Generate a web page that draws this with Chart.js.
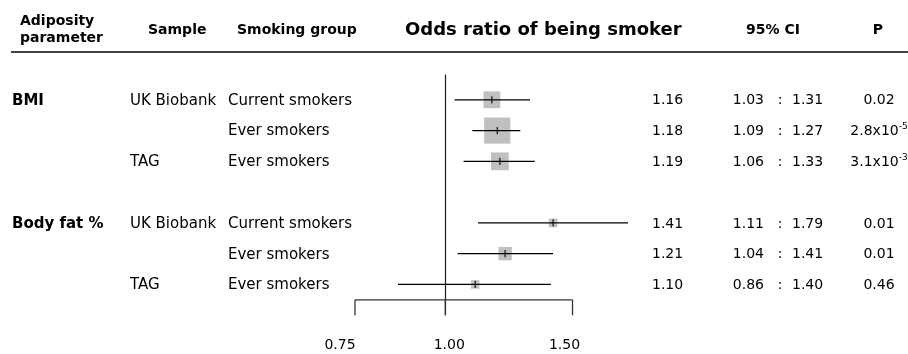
<!DOCTYPE html>
<html>
<head>
<meta charset="utf-8">
<title>Odds ratio of being smoker</title>
<script src="https://cdn.jsdelivr.net/npm/chart.js@4/dist/chart.umd.min.js"></script>
<style>
  html, body { margin: 0; padding: 0; background: #ffffff; }
  #wrap { width: 908px; height: 354px; }
</style>
</head>
<body>
<div id="wrap"><canvas id="forest" width="908" height="354"></canvas></div>
<script>
// ---- data -------------------------------------------------------------
const adiposity  = ['BMI', '', '', 'Body fat %', '', ''];
const samples    = ['UK Biobank', '', 'TAG', 'UK Biobank', '', 'TAG'];
const groups     = ['Current smokers', 'Ever smokers', 'Ever smokers',
                    'Current smokers', 'Ever smokers', 'Ever smokers'];
const oddsRatio  = [1.16, 1.18, 1.19, 1.41, 1.21, 1.10];
const ciLow      = [1.03, 1.09, 1.06, 1.11, 1.04, 0.86];
const ciHigh     = [1.31, 1.27, 1.33, 1.79, 1.41, 1.40];
const pValues    = ['0.02', '2.8x10^-5', '3.1x10^-3', '0.01', '0.01', '0.46'];
const axisTicks  = [0.75, 1.00, 1.50];

// ---- layout helpers ---------------------------------------------------
// each new adiposity block is separated from the previous one by an empty row
const rows = [];
let r = 0;
adiposity.forEach((a, i) => {
  if (i > 0 && a !== '') r += 1;
  rows.push(r);
  r += 1;
});

// box side is proportional to the precision (1 / SE on the log scale)
const boxSide = ciLow.map((lo, i) => {
  const se = Math.log(ciHigh[i] / lo) / (2 * 1.96);
  return 1 / se + 0.5;
});

const FONT = '"DejaVu Sans", Verdana, sans-serif';
const tickLabelShift = [-15, 4, -8];

// ---- datasets ---------------------------------------------------------
const ciSets = oddsRatio.map((_, i) => ({
  type: 'line',
  data: [{ x: ciLow[i], y: rows[i] }, { x: ciHigh[i], y: rows[i] }],
  borderColor: '#000000',
  borderWidth: 1.25,
  pointRadius: 0,
  showLine: true,
  clip: false,
  order: 1
}));

const boxes = {
  type: 'scatter',
  data: oddsRatio.map((v, i) => ({ x: v, y: rows[i] })),
  pointStyle: 'rect',
  pointRadius: boxSide.map(s => s / (2 * Math.SQRT1_2)),
  backgroundColor: '#c0c0c0',
  borderWidth: 0,
  clip: false,
  order: 2
};

const estimates = {
  type: 'scatter',
  data: oddsRatio.map((v, i) => ({ x: v, y: rows[i] })),
  pointStyle: 'line',
  rotation: 90,
  pointRadius: 3.6,
  borderColor: '#000000',
  borderWidth: 1.1,
  clip: false,
  order: 0
};

// ---- drawing of reference line, axis and the table columns -------------
const forestDecor = {
  id: 'forestDecor',
  beforeDatasetsDraw(chart) {
    const { ctx } = chart;
    const xs = chart.scales.x, ys = chart.scales.y;
    const x1 = xs.getPixelForValue(1);
    const axisY = ys.getPixelForValue(rows[rows.length - 1] + 0.5);
    const tickEnd = ys.getPixelForValue(rows[rows.length - 1] + 1);
    ctx.save();
    // null-effect line
    ctx.strokeStyle = '#1a1a1a';
    ctx.lineWidth = 1.2;
    ctx.beginPath();
    ctx.moveTo(Math.round(x1) + 0.5, ys.getPixelForValue(-0.82));
    ctx.lineTo(Math.round(x1) + 0.5, tickEnd);
    ctx.stroke();
    // x axis with downward ticks
    ctx.strokeStyle = '#333333';
    ctx.lineWidth = 1.3;
    const xa = xs.getPixelForValue(axisTicks[0]);
    const xb = xs.getPixelForValue(axisTicks[axisTicks.length - 1]);
    ctx.beginPath();
    ctx.moveTo(xa, axisY);
    ctx.lineTo(xb, axisY);
    axisTicks.forEach(t => {
      const px = xs.getPixelForValue(t);
      ctx.moveTo(px, axisY);
      ctx.lineTo(px, tickEnd);
    });
    ctx.stroke();
    ctx.restore();
  },
  afterDraw(chart) {
    const { ctx } = chart;
    const xs = chart.scales.x, ys = chart.scales.y;
    ctx.save();
    ctx.fillStyle = '#000000';

    // header
    ctx.textBaseline = 'middle';
    ctx.font = 'bold 14px ' + FONT;
    ctx.textAlign = 'left';
    ctx.fillText('Adiposity', 20, 21);
    ctx.fillText('parameter', 20, 38);
    ctx.fillText('Sample', 148, 30);
    ctx.fillText('Smoking group', 237, 30);
    ctx.textAlign = 'center';
    ctx.fillText('95% CI', 773, 30);
    ctx.fillText('P', 878, 30);
    ctx.font = 'bold 18px ' + FONT;
    ctx.textAlign = 'left';
    ctx.fillText('Odds ratio of being smoker', 405, 30);

    ctx.strokeStyle = '#444444';
    ctx.lineWidth = 2;
    ctx.beginPath();
    ctx.moveTo(11, 52);
    ctx.lineTo(908, 52);
    ctx.stroke();

    // rows
    oddsRatio.forEach((v, i) => {
      const y = ys.getPixelForValue(rows[i]) + 1;
      ctx.textAlign = 'left';
      if (adiposity[i]) {
        ctx.font = 'bold 15px ' + FONT;
        ctx.fillText(adiposity[i], 12, y);
      }
      ctx.font = '15px ' + FONT;
      if (samples[i]) ctx.fillText(samples[i], 130, y);
      ctx.fillText(groups[i], 228, y);
      ctx.font = '14px ' + FONT;
      ctx.fillText(v.toFixed(2), 652, y);
      ctx.textAlign = 'right';
      ctx.fillText(ciLow[i].toFixed(2), 764, y);
      ctx.textAlign = 'center';
      ctx.fillText(':', 780, y);
      ctx.textAlign = 'left';
      ctx.fillText(ciHigh[i].toFixed(2), 792, y);

      // p value, with optional superscript exponent
      const parts = pValues[i].split('^');
      ctx.font = '14px ' + FONT;
      const wBase = ctx.measureText(parts[0]).width;
      let wExp = 0;
      if (parts[1]) {
        ctx.font = '9px ' + FONT;
        wExp = ctx.measureText(parts[1]).width;
      }
      const x0 = 879 - (wBase + wExp) / 2;
      ctx.textAlign = 'left';
      ctx.font = '14px ' + FONT;
      ctx.fillText(parts[0], x0, y);
      if (parts[1]) {
        ctx.font = '9px ' + FONT;
        ctx.fillText(parts[1], x0 + wBase, y - 5);
      }
    });

    // tick labels
    ctx.font = '14px ' + FONT;
    ctx.textAlign = 'center';
    const labelY = ys.getPixelForValue(rows[rows.length - 1] + 2) - 1;
    axisTicks.forEach((t, k) => {
      ctx.fillText(t.toFixed(2), xs.getPixelForValue(t) + tickLabelShift[k], labelY);
    });
    ctx.restore();
  }
};

new Chart(document.getElementById('forest'), {
  data: { datasets: [...ciSets, boxes, estimates] },
  options: {
    responsive: false,
    animation: false,
    devicePixelRatio: 1,
    layout: {
      autoPadding: false,
      padding: { left: 355, right: 908 - 628, top: 69, bottom: 8 }
    },
    plugins: { legend: { display: false }, tooltip: { enabled: false } },
    scales: {
      x: {
        type: 'logarithmic',
        bounds: 'data',
        min: axisTicks[0],
        max: Math.max(...ciHigh),
        display: false
      },
      y: {
        type: 'linear',
        bounds: 'data',
        min: -1,
        max: rows[rows.length - 1] + 2,
        reverse: true,
        display: false
      }
    }
  },
  plugins: [forestDecor]
});
</script>
</body>
</html>
